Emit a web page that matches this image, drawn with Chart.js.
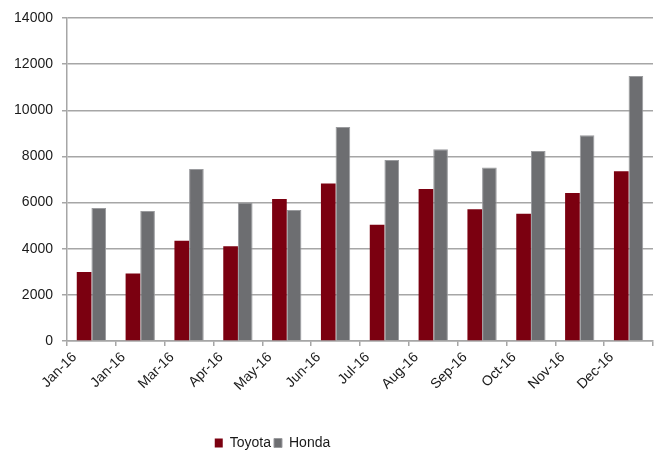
<!DOCTYPE html>
<html>
<head>
<meta charset="utf-8">
<script src="https://cdn.jsdelivr.net/npm/chart.js@4"></script>
<style>
    html, body { margin: 0; padding: 0; background: #fff; }
    #wrap { width: 654px; height: 450px; }
</style>
</head>
<body>
<div id="wrap"><canvas id="salesChart"></canvas></div>
<script>
// Monthly sales
const months = ['Jan-16', 'Jan-16', 'Mar-16', 'Apr-16', 'May-16', 'Jun-16',
                'Jul-16', 'Aug-16', 'Sep-16', 'Oct-16', 'Nov-16', 'Dec-16'];
const toyota = [2990, 2930, 4340, 4110, 6160, 6830, 5040, 6590, 5710, 5520, 6420, 7360];
const honda = [5760, 5640, 7450, 6000, 5680, 9280, 7840, 8310, 7520, 8240, 8920, 11490];
const yMin = 0;
const yMax = 14000;
const yStep = 2000;

// The legend in the original sits left of the canvas centre
const legendShift = {
    id: 'legendShift',
    afterLayout(chart) {
        if (chart.legend) {
            chart.legend.left -= 54;
            chart.legend.right -= 54;
        }
    }
};

document.addEventListener('DOMContentLoaded', function() {
    Chart.defaults.font.family = '"Liberation Sans", Arial, sans-serif';
    Chart.defaults.font.size = 14;
    Chart.defaults.color = '#1a1a1a';

    const ctx = document.getElementById('salesChart').getContext('2d');

    new Chart(ctx, {
        type: 'bar',
        data: {
            labels: months,
            datasets: [
                {
                    label: 'Toyota',
                    data: toyota,
                    backgroundColor: '#7b0010',
                    borderColor: '#7b0010',
                    borderWidth: 0
                },
                {
                    label: 'Honda',
                    data: honda,
                    backgroundColor: '#6d6e71',
                    borderColor: '#9a9b9e',
                    borderWidth: 1
                }
            ]
        },
        options: {
            responsive: true,
            maintainAspectRatio: false,
            animation: false,
            datasets: {
                bar: {
                    categoryPercentage: 0.6,
                    barPercentage: 1.0
                }
            },
            layout: {
                padding: { top: 18, right: 1, left: 0, bottom: -10 }
            },
            scales: {
                x: {
                    grid: {
                        drawOnChartArea: false,
                        drawTicks: true,
                        tickLength: 5,
                        color: '#a6a6a6',
                        lineWidth: 1.5
                    },
                    border: { color: '#a6a6a6', width: 1.5 },
                    ticks: {
                        minRotation: 45,
                        maxRotation: 45,
                        labelOffset: -17,
                        padding: 3,
                        font: { size: 14 }
                    },
                    afterFit: function(scale) {
                        scale.height = 92;
                    }
                },
                y: {
                    min: yMin,
                    max: yMax,
                    grid: {
                        color: '#a6a6a6',
                        lineWidth: 1.5,
                        drawTicks: true,
                        tickLength: 5
                    },
                    border: { color: '#a6a6a6', width: 1.5 },
                    ticks: {
                        stepSize: yStep,
                        padding: 9,
                        callback: function(value) {
                            return String(value);
                        }
                    },
                    afterFit: function(scale) {
                        scale.width = 67;
                    }
                }
            },
            plugins: {
                legend: {
                    position: 'bottom',
                    labels: {
                        boxWidth: 8,
                        boxHeight: 9,
                        padding: 3,
                        font: { size: 14 }
                    }
                },
                tooltip: { enabled: false }
            }
        },
        plugins: [legendShift]
    });
});
</script>
</body>
</html>
